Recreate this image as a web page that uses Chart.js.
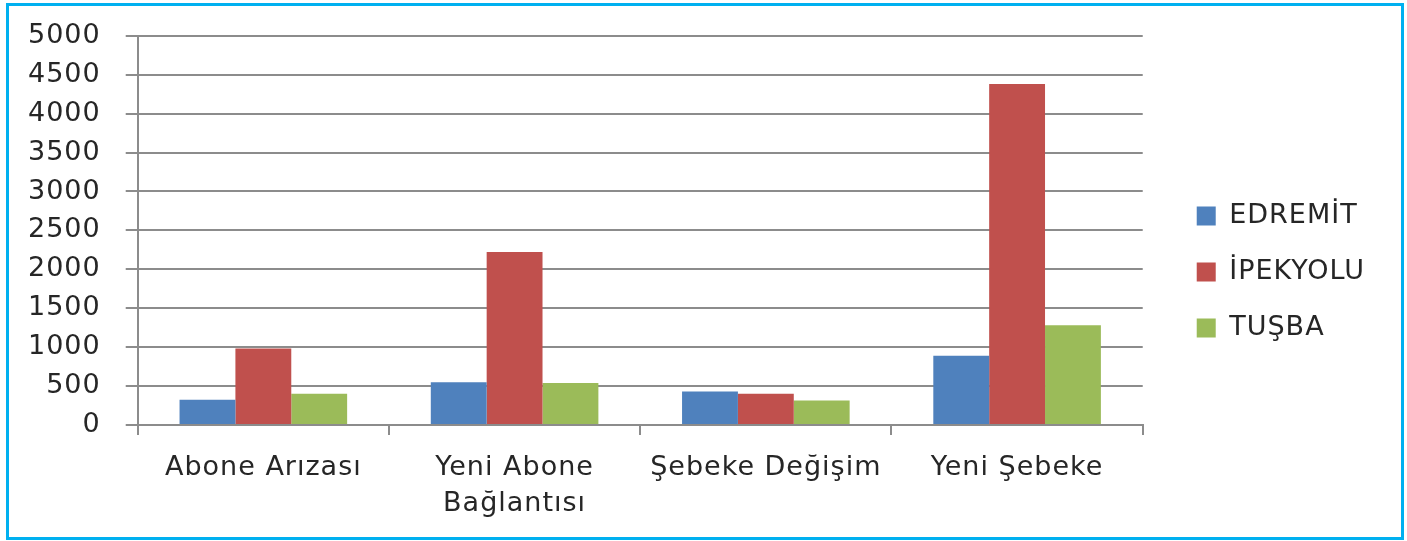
<!DOCTYPE html>
<html>
<head>
<meta charset="utf-8">
<script src="https://cdn.jsdelivr.net/npm/chart.js@4"></script>
<style>
  body { margin: 0; background: #fff; }
  #frame {
    position: absolute; left: 6px; top: 3px;
    width: 1392px; height: 531px;
    border: 3px solid #00b0f0;
  }
  #wrap { position: absolute; left: 0; top: 0; width: 1407px; height: 541px; }
</style>
</head>
<body>
<div id="frame"></div>
<div id="wrap"><canvas id="chart" width="1407" height="541"></canvas></div>
<script>
const categories = ['Abone Arızası', ['Yeni Abone', 'Bağlantısı'], 'Şebeke Değişim', 'Yeni Şebeke'];
const edremit = [325, 548, 432, 891];
const ipekyolu = [982, 2223, 402, 4382];
const tusba = [402, 540, 316, 1283];
const yTicks = [0, 500, 1000, 1500, 2000, 2500, 3000, 3500, 4000, 4500, 5000];

const textColor = '#262626';
const gridColor = '#8c8c8c';
const fontFamily = 'DejaVu Sans';

// wide Office-like text: add a little letter spacing on the canvas
const spacing = {
  id: 'spacing',
  beforeUpdate(chart) { chart.ctx.letterSpacing = '1px'; },
  beforeDraw(chart) { chart.ctx.letterSpacing = '1px'; }
};

const ctx = document.getElementById('chart').getContext('2d');
new Chart(ctx, {
  type: 'bar',
  data: {
    labels: categories,
    datasets: [
      { label: 'EDREMİT', data: edremit, backgroundColor: '#4f81bd' },
      { label: 'İPEKYOLU', data: ipekyolu, backgroundColor: '#c0504d' },
      { label: 'TUŞBA', data: tusba, backgroundColor: '#9bbb59' }
    ]
  },
  options: {
    responsive: false,
    animation: false,
    devicePixelRatio: 1,
    categoryPercentage: 0.667,
    barPercentage: 1,
    layout: { padding: { left: 3, top: 7, right: 32, bottom: 4 } },
    plugins: {
      tooltip: { enabled: false },
      legend: {
        position: 'right',
        labels: {
          color: textColor,
          font: { family: fontFamily, size: 27 },
          boxWidth: 19,
          boxHeight: 19,
          padding: 29
        }
      }
    },
    scales: {
      x: {
        grid: {
          offset: true,
          drawOnChartArea: false,
          color: gridColor,
          lineWidth: 2,
          tickLength: 10
        },
        border: { color: gridColor, width: 2 },
        ticks: {
          color: textColor,
          font: { family: fontFamily, size: 27, lineHeight: 1.333 },
          maxRotation: 0,
          padding: 15
        }
      },
      y: {
        min: 0,
        max: 5000,
        afterBuildTicks(axis) { axis.ticks = yTicks.map(v => ({ value: v })); },
        grid: { color: gridColor, lineWidth: 2, tickLength: 12 },
        border: { color: gridColor, width: 2 },
        ticks: {
          color: textColor,
          font: { family: fontFamily, size: 27, lineHeight: 0.8 },
          padding: 25,
          callback: v => String(v)
        }
      },
      // empty strip between the plot and the legend
      gap: {
        type: 'linear',
        position: 'right',
        grid: { display: false },
        border: { display: false },
        ticks: { display: false },
        afterFit(s) { s.width = 25; }
      }
    }
  },
  plugins: [spacing]
});
</script>
</body>
</html>
